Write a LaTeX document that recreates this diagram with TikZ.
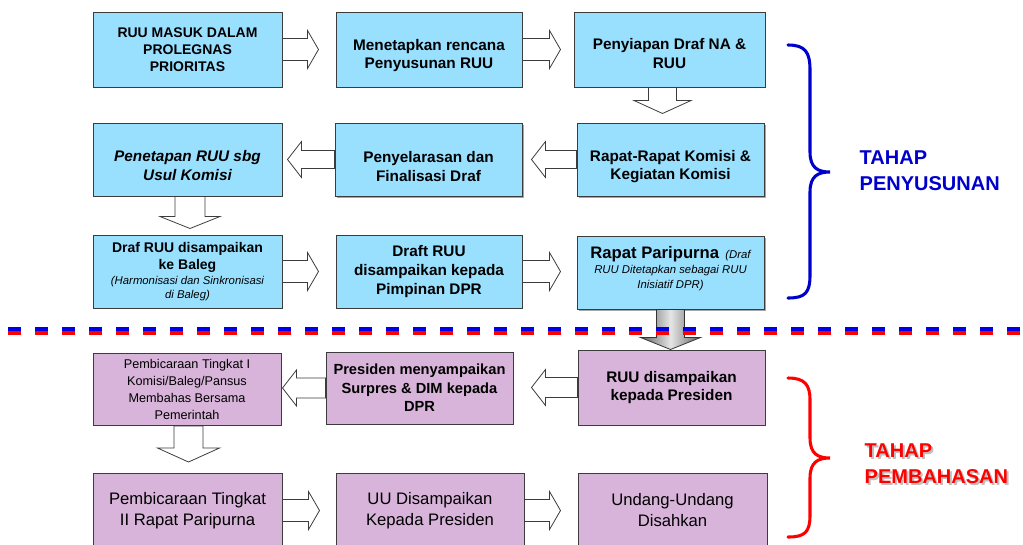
\documentclass[tikz,border=0pt]{standalone}
\usepackage{fontspec}
\setmainfont{Liberation Sans}
\usetikzlibrary{calc,shadows}
\definecolor{bluef}{RGB}{153,224,255}
\definecolor{purpf}{RGB}{216,180,218}
\definecolor{bordc}{RGB}{60,60,60}
\definecolor{tblue}{RGB}{0,0,204}
\definecolor{tred}{RGB}{255,0,0}
\definecolor{dblue}{RGB}{0,0,230}
% #2 start, #3 angle, #4 length, #5 head length, #6 shaft half, #7 head half
\newcommand\blockarrow[7][]{%
  \begin{scope}[shift={(#2)}, rotate=#3]
    \draw[barrow,#1] (0,-#6) -- ({#4-#5},-#6) -- ({#4-#5},-#7) -- (#4,0)
      -- ({#4-#5},#7) -- ({#4-#5},#6) -- (0,#6) -- cycle;
  \end{scope}}
\begin{document}
\begin{tikzpicture}[x=0.75pt,y=-0.75pt,
  box/.style={draw=bordc, line width=0.75pt, inner sep=0pt, align=center},
  bbox/.style={box, fill=bluef, font=\fontsize{11.5}{14}\selectfont\bfseries},
  btxt/.style={inner sep=0pt, align=center, font=\fontsize{11.5}{14}\selectfont\bfseries},
  pbox/.style={box, fill=purpf},
  sz/.style 2 args={minimum width=#1*0.75pt, minimum height=#2*0.75pt},
  barrow/.style={draw=bordc, line width=0.6pt, fill=white, line join=miter},
  shad/.style={drop shadow={shadow xshift=1.5pt, shadow yshift=-1.5pt, fill=black, opacity=0.35}},
  brace/.style={line width=2.3pt, line cap=round},
  tahap/.style={anchor=west, align=left, font=\fontsize{15}{19.5}\selectfont\bfseries},
]
\path[use as bounding box] (0,0) rectangle (1023,544);
\clip (0,0) rectangle (1023,544);

% ---- row 1
\node[bbox, sz={189}{75}, font=\fontsize{10.5}{12.75}\selectfont\bfseries] (b1) at (187.5,49.5) {RUU MASUK DALAM\\PROLEGNAS\\PRIORITAS};
\node[bbox, sz={186}{75}] (b2) at (429,49.5) {};
\node[btxt] (b2t) at ($(b2.center)+(0,6)$) {Menetapkan rencana\\Penyusunan RUU};
\node[bbox, sz={191}{75}] (b3) at (669.5,49.5) {};
\node[btxt] (b3t) at ($(b3.center)+(0,4)$) {Penyiapan Draf NA \&\\RUU};
% ---- row 2
\node[bbox, sz={189}{73}] (b4) at (187.5,159.5) {};
\node[btxt, font=\fontsize{11.5}{14}\selectfont\bfseries\itshape] (b4t) at ($(b4.center)+(0,6)$) {Penetapan RUU sbg\\Usul Komisi};
\node[bbox, shad, sz={187}{73}] (b5) at (428.5,159.5) {};
\node[btxt] (b5t) at ($(b5.center)+(0,7)$) {Penyelarasan dan\\Finalisasi Draf};
\node[bbox, shad, sz={187}{73}] (b6) at (670.5,159.5) {};
\node[btxt] (b6t) at ($(b6.center)+(0,7)$) {Rapat-Rapat Komisi \&\\Kegiatan Komisi};
% ---- row 3
\node[bbox, sz={189}{73}, font=\fontsize{10.5}{12.75}\selectfont\bfseries] (b7) at (187.5,271.5) {Draf RUU disampaikan\\ke Baleg\\[-1.5pt]{\fontsize{8.5}{10.5}\selectfont\mdseries\itshape (Harmonisasi dan Sinkronisasi}\\[-2.25pt]{\fontsize{8.5}{10.5}\selectfont\mdseries\itshape di Baleg)}};
\node[bbox, sz={186}{73}] (b8) at (429,271.5) {Draft RUU\\disampaikan kepada\\Pimpinan DPR};
\node[bbox, shad, sz={187}{73}] (b9) at (670.5,272.5) {};
\node[btxt, font=\fontsize{8.5}{11.25}\selectfont\itshape] (b9t) at ($(b9.center)+(0,-4)$) {{\fontsize{12.5}{15}\selectfont\bfseries\upshape Rapat Paripurna}\ \ (Draf\\RUU Ditetapkan sebagai RUU\\Inisiatif DPR)};
% ---- row 4
\node[pbox, sz={187}{75}, font=\fontsize{11.5}{14}\selectfont\bfseries] (b10) at (671.5,387.5) {RUU disampaikan\\kepada Presiden};
\node[pbox, sz={187}{72}, font=\fontsize{11}{13.9}\selectfont\bfseries] (b11) at (419.5,388) {Presiden menyampaikan\\Surpres \& DIM kepada\\DPR};
\node[pbox, sz={188}{72}, font=\fontsize{9.5}{12.75}\selectfont] (b12) at (187,389.5) {Pembicaraan Tingkat I\\Komisi/Baleg/Pansus\\Membahas Bersama\\Pemerintah};
% ---- row 5
\node[pbox, sz={189}{75}, font=\fontsize{12.5}{15.75}\selectfont] (b13) at (187.5,510.5) {Pembicaraan Tingkat\\II Rapat Paripurna};
\node[pbox, sz={188}{75}, font=\fontsize{12.5}{15.75}\selectfont] (b14) at (430,510.5) {UU Disampaikan\\Kepada Presiden};
\node[pbox, sz={189}{75}, font=\fontsize{12.5}{15.75}\selectfont] (b15) at (672.5,510.5) {Undang-Undang\\Disahkan};

% ---- block arrows
\blockarrow{b1.east}{0}{36}{11}{11}{19}
\blockarrow{b2.east}{0}{38}{11}{11}{19}
\blockarrow{b7.east}{0}{36}{11}{11}{19}
\blockarrow{b8.east}{0}{38}{11}{11}{19}
\blockarrow{b13.east}{0}{37}{11}{11}{19}
\blockarrow{b14.east}{0}{36}{11}{11}{19}
\blockarrow{b6.west}{180}{45}{14}{9}{18}
\blockarrow{b5.west}{180}{47}{14}{9}{18}
\blockarrow{b10.west}{180}{46}{14}{10}{18}
\blockarrow{b11.west}{180}{43}{14}{10}{18}
\blockarrow{$(b3.south)+(-7,0)$}{-90}{26}{13}{14}{28.5}
\blockarrow{$(b4.south)+(2.5,0)$}{-90}{32}{12}{15}{30}
\blockarrow{$(b12.south)+(1.5,0)$}{-90}{36}{14}{14.5}{31}

% ---- gray transition arrow
\coordinate (g0) at (b9.south);
\shade[left color=gray!75!black, right color=gray!75!black, middle color=gray!20]
  ($(g0)+(-14,0)$) -- ($(g0)+(14,0)$) -- ($(g0)+(14,28)$) -- ($(g0)+(30,28)$)
  -- ($(g0)+(0,40)$) -- ($(g0)+(-30,28)$) -- ($(g0)+(-14,28)$) -- cycle;
\draw[gray!40!black, line width=0.6pt]
  ($(g0)+(-14,0)$) -- ($(g0)+(14,0)$) -- ($(g0)+(14,28)$) -- ($(g0)+(30,28)$)
  -- ($(g0)+(0,40)$) -- ($(g0)+(-30,28)$) -- ($(g0)+(-14,28)$) -- cycle;

% ---- separator
\draw[dblue, line width=3pt, dash pattern=on 9.75pt off 10.5pt, dash phase=14.25pt] (0,329) -- (1023,329);
\draw[tred, line width=3pt, dash pattern=on 9.75pt off 10.5pt, dash phase=14.25pt] (0,333) -- (1023,333);

% ---- braces
\draw[brace, tblue] (788,45) .. controls (805,45) and (810,52) .. (810,70) -- (810,152)
  .. controls (810,168) and (818,172) .. (830,172)
  .. controls (818,172) and (810,176) .. (810,192) -- (810,275)
  .. controls (810,293) and (805,298) .. (788,298);
\draw[brace, tred] (788,378) .. controls (805,378) and (810,385) .. (810,400) -- (810,438)
  .. controls (810,454) and (818,458) .. (830,458)
  .. controls (818,458) and (810,462) .. (810,478) -- (810,515)
  .. controls (810,532) and (805,537) .. (788,537);

\node[tahap, text=tblue] (t1) at (855,170.5) {TAHAP\\PENYUSUNAN};
\node[tahap, text=black, opacity=0.25] (t2s) at (862,465.5) {TAHAP\\PEMBAHASAN};
\node[tahap, text=tred] (t2) at (860,463.5) {TAHAP\\PEMBAHASAN};
\end{tikzpicture}
\end{document}
